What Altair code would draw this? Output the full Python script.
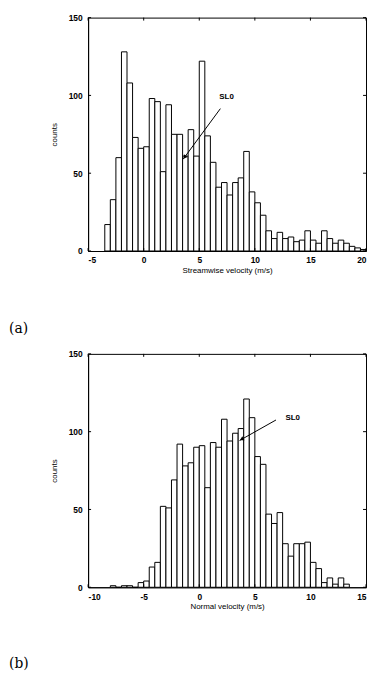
import math
import altair as alt
import pandas as pd

# ---------------- data ----------------
BIN_WIDTH = 0.5

# (a) streamwise velocity histogram: first bin starts at -3.5 m/s
start_a = -3.5
counts_a = [17, 33, 60, 128, 108, 73, 66, 67, 98, 96,
            51, 94, 75, 75, 61, 78, 61, 122, 74, 57,
            41, 44, 36, 44, 47, 64, 38, 31, 23, 13,
            8, 12, 8, 9, 6, 7, 13, 7, 5, 13,
            8, 5, 7, 5, 3, 2, 1]

# (b) normal velocity histogram: first bin starts at -8.0 m/s
start_b = -8.0
counts_b = [1, 0, 1, 1, 0, 3, 4, 13, 16, 52,
            51, 69, 92, 78, 80, 90, 91, 64, 93, 90,
            108, 94, 99, 102, 121, 109, 84, 79, 47, 41,
            48, 28, 20, 28, 28, 29, 16, 12, 3, 6,
            2, 6, 2]

x_ticks_a = [-5, 0, 5, 10, 15, 20]
x_ticks_b = [-10, -5, 0, 5, 10, 15]
y_ticks = [0, 50, 100, 150]
x_dom_a = [-5, 20]
x_dom_b = [-10, 15]
y_dom = [0, 150]

x_title_a = "Streamwise velocity (m/s)"
x_title_b = "Normal velocity (m/s)"
y_title = "counts"
panel_a = "(a)"
panel_b = "(b)"

# annotation "SL0": text position, arrow start, arrow tip (data units)
note_a = {"tx": 6.8, "ty": 99, "ax0": 6.9, "ay0": 91.5, "ax1": 3.55, "ay1": 59}
note_b = {"tx": 7.75, "ty": 109, "ax0": 6.9, "ay0": 107.5, "ax1": 3.62, "ay1": 94.3}

# ---------------- styling ----------------
W, H = 281, 236
TICK = 3
FONT = "Liberation Sans"


def panel(start, counts, xdom, xticks, xtitle, label, label_y, note):
    starts = [start + BIN_WIDTH * i for i in range(len(counts))]
    df = pd.DataFrame({"x0": starts,
                       "x1": [s + BIN_WIDTH for s in starts],
                       "n": counts,
                       "z": [0] * len(counts)})
    xs = alt.Scale(domain=xdom, nice=False, zero=False)
    ys = alt.Scale(domain=y_dom, nice=False, zero=True)
    xax = alt.Axis(values=xticks, title=xtitle, grid=False, ticks=False,
                   domainColor="black", labelColor="black",
                   labelFont=FONT, labelFontSize=8.5, labelFontWeight="bold",
                   labelPadding=5, labelExpr="'' + datum.value",
                   titleFont=FONT, titleFontSize=8, titleFontWeight="normal",
                   titleColor="black", titlePadding=2)
    yax = alt.Axis(values=y_ticks, title=y_title, grid=False, ticks=False,
                   domainColor="black", labelColor="black",
                   labelFont=FONT, labelFontSize=8.5, labelFontWeight="bold",
                   labelPadding=6,
                   titleFont=FONT, titleFontSize=8, titleFontWeight="normal",
                   titleColor="black", titlePadding=10)

    def X(f):
        return alt.X(f, scale=xs, axis=xax, title=xtitle)

    def Y(f):
        return alt.Y(f, scale=ys, axis=yax, title=y_title)

    bars = alt.Chart(df).mark_rect(
        fill="white", stroke="black", strokeWidth=1
    ).encode(x=X("x0:Q"), x2="x1:Q", y=Y("n:Q"), y2="z:Q")

    xt = pd.DataFrame({"xv": xticks})
    yt = pd.DataFrame({"yv": y_ticks})
    tick_style = dict(color="black", strokeWidth=1)
    bottom = alt.Chart(xt).mark_rule(**tick_style).encode(
        x=X("xv:Q"), y=alt.value(H), y2=alt.value(H - TICK))
    top = alt.Chart(xt).mark_rule(**tick_style).encode(
        x=X("xv:Q"), y=alt.value(0), y2=alt.value(TICK))
    left = alt.Chart(yt).mark_rule(**tick_style).encode(
        y=Y("yv:Q"), x=alt.value(0), x2=alt.value(TICK))
    right = alt.Chart(yt).mark_rule(**tick_style).encode(
        y=Y("yv:Q"), x=alt.value(W - TICK), x2=alt.value(W))

    nd = pd.DataFrame([note])
    txt = alt.Chart(nd).mark_text(
        text="SL0", align="left", baseline="middle", font=FONT,
        fontSize=8, fontWeight="bold", color="black"
    ).encode(x=X("tx:Q"), y=Y("ty:Q"))
    line = alt.Chart(nd).mark_rule(color="black", strokeWidth=1).encode(
        x=X("ax0:Q"), x2="ax1:Q", y=Y("ay0:Q"), y2="ay1:Q")

    # arrow head orientation from the pixel direction of the arrow
    dxp = (note["ax1"] - note["ax0"]) * W / (xdom[1] - xdom[0])
    dyp = -(note["ay1"] - note["ay0"]) * H / (y_dom[1] - y_dom[0])
    ang = math.degrees(math.atan2(dxp, -dyp)) % 360
    length = math.hypot(dxp, dyp)
    back = 2.5 / length
    head_df = pd.DataFrame({
        "hx": [note["ax1"] - (note["ax1"] - note["ax0"]) * back],
        "hy": [note["ay1"] - (note["ay1"] - note["ay0"]) * back],
    })
    head = alt.Chart(head_df).mark_point(
        shape="triangle-up", filled=True, color="black", size=22, angle=ang, opacity=1
    ).encode(x=X("hx:Q"), y=Y("hy:Q"))

    lab = alt.Chart(pd.DataFrame({"t": [label]})).mark_text(
        align="left", baseline="middle", font="DejaVu Serif", fontSize=14, color="black"
    ).encode(text="t:N", x=alt.value(-80), y=alt.value(label_y))

    return alt.layer(bars, bottom, top, left, right, line, head, txt, lab).properties(
        width=W, height=H)


pa = panel(start_a, counts_a, x_dom_a, x_ticks_a, x_title_a, panel_a, 315, note_a)
pb = panel(start_b, counts_b, x_dom_b, x_ticks_b, x_title_b, panel_b, 314, note_b)

chart = alt.vconcat(
    pa, pb, spacing=104, bounds="flush", background="white",
    padding={"left": 0, "top": 1, "right": 0, "bottom": 0},
).configure_view(
    stroke="black", strokeWidth=1
)

chart.save("out.html", embed_options={"renderer": "svg", "actions": False})
